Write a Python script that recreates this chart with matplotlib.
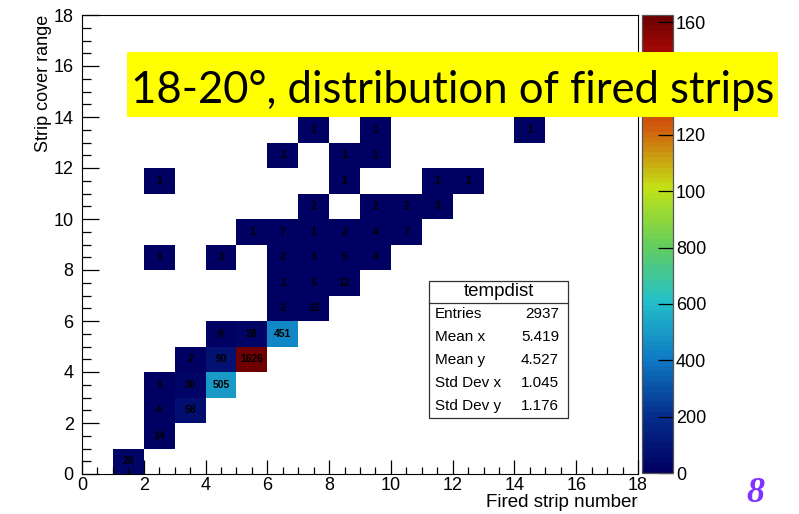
import numpy as np
import matplotlib.pyplot as plt
from matplotlib.colors import LinearSegmentedColormap, Normalize
from matplotlib.patches import Rectangle
from matplotlib.ticker import MultipleLocator

# filled cells of the 2D histogram (bin lower edges) and their counts
cell_x = [1, 2, 2, 3, 2, 3, 4, 3, 4, 5, 4, 5, 6, 6, 7,
          6, 7, 8,
          2, 4, 6, 7, 8, 9,
          5, 6, 7, 8, 9, 10,
          7, 9, 10, 11,
          2, 8, 11, 12,
          6, 8, 9,
          7, 9, 14]
cell_y = [0, 1, 2, 2, 3, 3, 3, 4, 4, 4, 5, 5, 5, 6, 6,
          7, 7, 7,
          8, 8, 8, 8, 8, 8,
          9, 9, 9, 9, 9, 9,
          10, 10, 10, 10,
          11, 11, 11, 11,
          12, 12, 12,
          13, 13, 13]
cell_counts = [29, 14, 4, 58, 1, 30, 505, 2, 90, 1626, 8, 28, 451, 2, 12,
               1, 5, 12,
               1, 1, 2, 3, 5, 4,
               1, 7, 1, 2, 4, 7,
               2, 2, 2, 3,
               1, 1, 1, 1,
               1, 1, 1,
               1, 1, 1]

stats_labels = ['Entries', 'Mean x', 'Mean y', 'Std Dev x', 'Std Dev y']
stats_values = ['2937', '5.419', '4.527', '1.045', '1.176']

cbar_ticks = [0, 200, 400, 600, 800, 1000, 1200, 1400, 1600]
cbar_labels = ['0', '200', '400', '600', '800', '100', '120', '140', '160']

# ROOT kRainBow palette
stops = [0.0, 0.125, 0.25, 0.375, 0.5, 0.625, 0.75, 0.875, 1.0]
red = [0, 5, 15, 35, 102, 196, 208, 199, 110]
green = [0, 48, 124, 192, 206, 226, 97, 16, 0]
blue = [99, 142, 198, 201, 90, 22, 13, 8, 2]
cmap = LinearSegmentedColormap.from_list(
    'rainbow55', [(s, (r / 255, g / 255, b / 255)) for s, r, g, b in zip(stops, red, green, blue)], N=90)

plt.rcParams['font.family'] = ['Liberation Sans', 'DejaVu Sans']

W, H = 799, 514
fig = plt.figure(figsize=(W / 100, H / 100), dpi=100)
ax = fig.add_axes([82 / W, 40 / H, 556 / W, 459 / H])
cax = fig.add_axes([642 / W, 41 / H, 31 / W, 458 / H])

edges = np.arange(0, 19)
hist, xe, ye = np.histogram2d(cell_x, cell_y, bins=[edges, edges], weights=cell_counts)
masked = np.ma.masked_where(hist.T <= 0, hist.T)
norm = Normalize(vmin=0, vmax=max(cell_counts))
mesh = ax.pcolormesh(xe, ye, masked, cmap=cmap, norm=norm)

for x, y, c in zip(cell_x, cell_y, cell_counts):
    ax.text(x + 0.5, y + 0.5, str(c), ha='center', va='center', fontsize=7.5,
            fontweight='bold', color='black')

ax.set_xlim(0, 18)
ax.set_ylim(0, 18)
ax.xaxis.set_major_locator(MultipleLocator(2))
ax.xaxis.set_minor_locator(MultipleLocator(0.5))
ax.yaxis.set_major_locator(MultipleLocator(2))
ax.yaxis.set_minor_locator(MultipleLocator(0.5))
ax.tick_params(axis='x', which='major', direction='in', length=10, width=0.9, labelsize=13, pad=2.5)
ax.tick_params(axis='x', which='minor', direction='in', length=5, width=0.9)
ax.tick_params(axis='y', which='major', direction='in', length=12, width=0.9, labelsize=13, pad=6)
ax.tick_params(axis='y', which='minor', direction='in', length=6.5, width=0.9)
for s in ax.spines.values():
    s.set_linewidth(0.8)
ax.set_xlabel('Fired strip number', fontsize=13.5, loc='right', labelpad=0)
ax.set_ylabel('Strip cover range', fontsize=13, loc='top', labelpad=1)

cb = fig.colorbar(mesh, cax=cax)
cb.set_ticks(cbar_ticks)
cb.set_ticklabels(cbar_labels)
cb.ax.tick_params(direction='in', length=11, width=0.9, labelsize=13, pad=2)
cb.ax.minorticks_off()
cb.outline.set_linewidth(0.9)
cb.outline.set_edgecolor('#555555')


def fx(px):
    return px / W


def fy(py):
    return 1 - py / H


# stats box
fig.patches.append(Rectangle((fx(429), fy(418)), (568 - 429) / W, (418 - 281) / H,
                             transform=fig.transFigure, facecolor='white',
                             edgecolor='#333333', linewidth=0.9, zorder=5))
fig.lines.append(plt.Line2D([fx(429), fx(568)], [fy(303), fy(303)],
                            transform=fig.transFigure, color='#333333', linewidth=0.9, zorder=6))
fig.text(fx(498.5), fy(292), 'tempdist', ha='center', va='center', fontsize=13.5, zorder=7)
for i, (lab, val) in enumerate(zip(stats_labels, stats_values)):
    yy = fy(314.5 + i * 22.8)
    fig.text(fx(435), yy, lab, ha='left', va='center', fontsize=11, zorder=7)
    fig.text(fx(559), yy, val, ha='right', va='center', fontsize=11, zorder=7)

# slide title overlay
fig.patches.append(Rectangle((fx(127), fy(117)), (778 - 127) / W, (117 - 52) / H,
                             transform=fig.transFigure, facecolor='#ffff00',
                             edgecolor='none', zorder=10))
fig.text(fx(131), fy(103), '18-20°, distribution of fired strips', ha='left', va='baseline',
         fontsize=31.4, family=['Lato', 'DejaVu Sans'], color='black', zorder=11)

fig.text(fx(755), fy(494), '8', ha='center', va='center', fontsize=26, color='#8033ff',
         family=['Liberation Serif'], fontweight='bold', style='italic', zorder=11)

fig.savefig('out.png', dpi=100)
